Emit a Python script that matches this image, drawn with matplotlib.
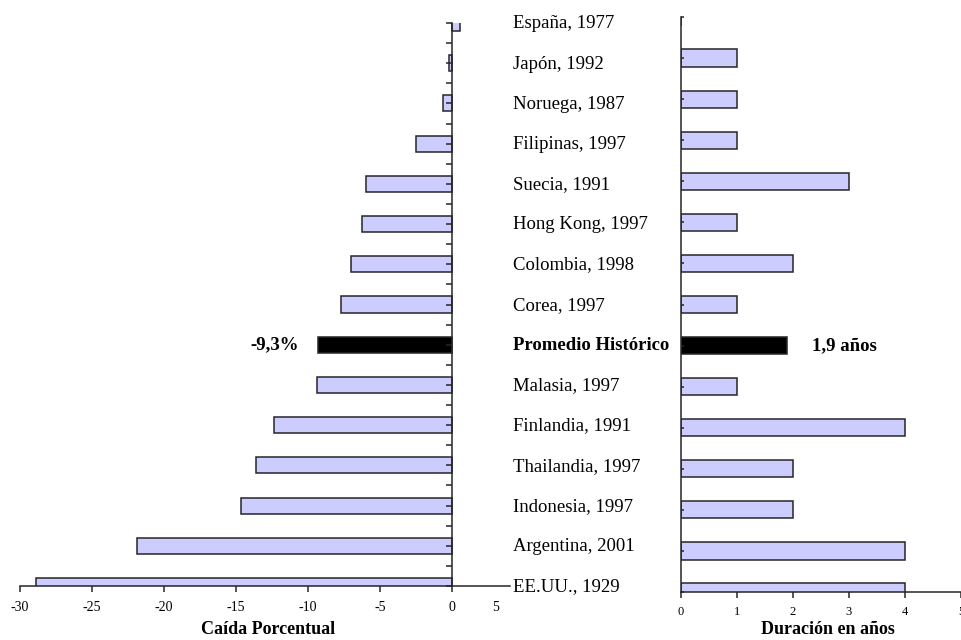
import matplotlib.pyplot as plt
from matplotlib.transforms import blended_transform_factory

plt.rcParams['font.family'] = ['Liberation Serif', 'DejaVu Serif']

# Episodios, de arriba hacia abajo
paises = ["España, 1977", "Japón, 1992", "Noruega, 1987", "Filipinas, 1997",
          "Suecia, 1991", "Hong Kong, 1997", "Colombia, 1998", "Corea, 1997",
          "Promedio Histórico", "Malasia, 1997", "Finlandia, 1991",
          "Thailandia, 1997", "Indonesia, 1997", "Argentina, 2001", "EE.UU., 1929"]
caida = [0.5, -0.2, -0.65, -2.55, -6.0, -6.25, -7.0, -7.7, -9.3, -9.4,
         -12.4, -13.6, -14.65, -21.9, -28.9]
duracion = [0, 1, 1, 1, 3, 1, 2, 1, 1.9, 1, 4, 2, 2, 4, 4]
ticks_caida = [-30, -25, -20, -15, -10, -5, 0]
ticks_duracion = [0, 1, 2, 3, 4, 5]
promedio = "Promedio Histórico"

n = len(paises)
pos = [n - 1 - i for i in range(n)]
relleno = ['black' if p == promedio else '#ccccff' for p in paises]
borde = '#262626'

W, H = 961, 640
fig = plt.figure(figsize=(W / 100, H / 100), dpi=100)

# Panel izquierdo: caída porcentual
ax1 = fig.add_axes([20 / W, (H - 586) / H, 490 / W, (586 - 23) / H])
ax1.barh(pos, caida, height=0.4, color=relleno, edgecolor=borde, linewidth=1.1)
ax1.set_xlim(-30, 4)
ax1.set_ylim(0, n - 1)
ax1.spines['left'].set_position(('data', 0))
for s in ['top', 'right']:
    ax1.spines[s].set_visible(False)
for s in ['left', 'bottom']:
    ax1.spines[s].set_color(borde)
    ax1.spines[s].set_linewidth(1.1)
ax1.set_xticks(ticks_caida)
ax1.set_xticklabels([str(t) for t in ticks_caida])
ax1.set_yticks([k * 0.5 for k in range(2 * (n - 1) + 1)])
ax1.set_yticklabels([])
ax1.tick_params(axis='x', direction='out', length=4, width=1.1, color=borde,
                labelsize=10, pad=7)
ax1.tick_params(axis='y', direction='out', length=4, width=1.1, color=borde)
ax1.set_xlabel("Caída Porcentual", fontsize=13, fontweight='bold', labelpad=4.5)
ax1.xaxis.label.set_x(0.506)
# último rótulo del eje, desplazado por el borde del panel
ax1.text(3.0, -0.039, "5", transform=blended_transform_factory(ax1.transData, ax1.transAxes),
         ha='center', va='center', fontsize=10)

# Nombres de los episodios entre ambos paneles
tr = blended_transform_factory(ax1.transAxes, ax1.transData)
for p, y in zip(paises, pos):
    ax1.text(1.006, y - 0.02, p, transform=tr, ha='left', va='center',
             fontsize=13.5, fontweight='bold' if p == promedio else 'normal',
             clip_on=False)

i_prom = paises.index(promedio)
ax1.annotate(f"{caida[i_prom]:.1f}%".replace('.', ','), xy=(caida[i_prom], pos[i_prom]),
             xytext=(-14, 0), textcoords='offset points', ha='right', va='center',
             fontsize=13.5, fontweight='bold')

# Panel derecho: duración
ax2 = fig.add_axes([681 / W, (H - 592) / H, 280 / W, (592 - 17) / H])
ax2.barh(pos, duracion, height=0.42, color=relleno, edgecolor=borde, linewidth=1.1)
ax2.set_xlim(0, 5)
ax2.set_ylim(0, n - 1)
for s in ['top', 'right']:
    ax2.spines[s].set_visible(False)
for s in ['left', 'bottom']:
    ax2.spines[s].set_color(borde)
    ax2.spines[s].set_linewidth(1.1)
ax2.set_xticks(ticks_duracion)
ax2.set_yticks(pos)
ax2.set_yticklabels([])
ax2.tick_params(axis='x', direction='out', length=4, width=1.1, color=borde,
                labelsize=9, pad=6)
ax2.tick_params(axis='y', direction='in', length=2.5, width=1.1, color=borde)
ax2.set_xlabel("Duración en años", fontsize=13, fontweight='bold', labelpad=2.5)
ax2.xaxis.label.set_x(0.525)
ax2.annotate(f"{duracion[i_prom]:.1f} años".replace('.', ','),
             xy=(duracion[i_prom], pos[i_prom]), xytext=(18, 0),
             textcoords='offset points', ha='left', va='center',
             fontsize=13.5, fontweight='bold')

fig.savefig("out.png", dpi=100)
